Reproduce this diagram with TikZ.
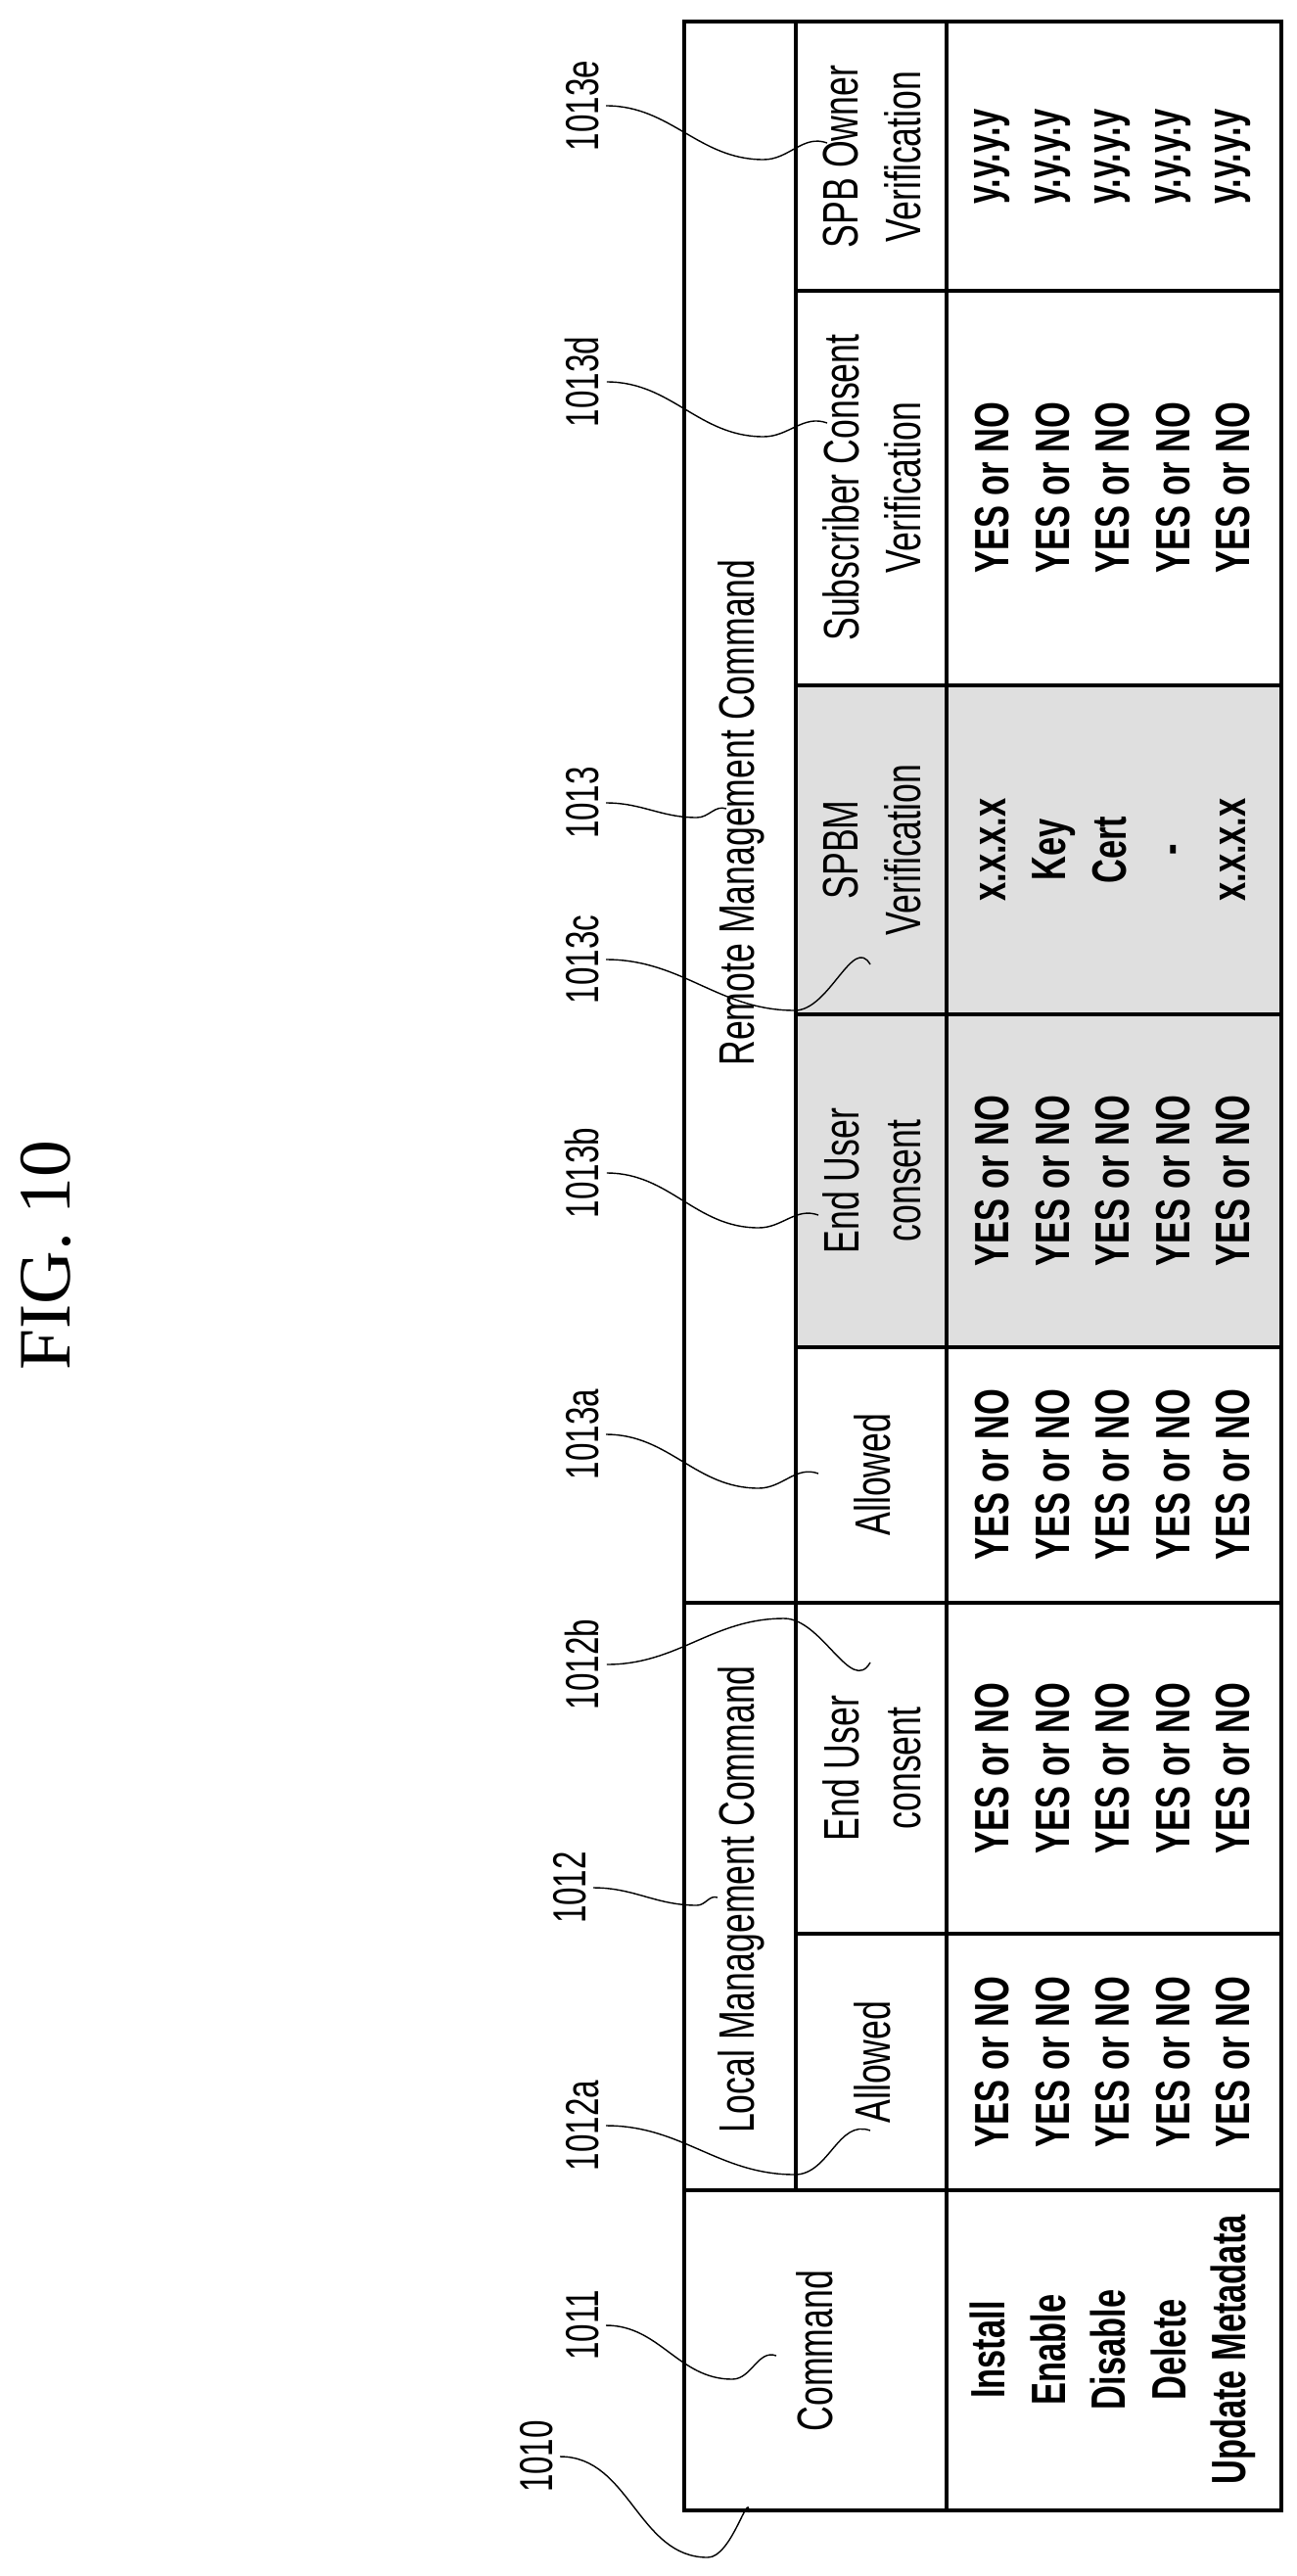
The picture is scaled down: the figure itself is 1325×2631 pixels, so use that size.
\documentclass[tikz,border=0pt]{standalone}
\usepackage{fontspec}
\setmainfont{Liberation Sans}[FakeStretch=0.7]
\newfontfamily\figfont{Liberation Serif}
\usetikzlibrary{positioning}

\tikzset{
  cell/.style={rotate=90, align=center, inner sep=0pt,
    font=\fontsize{29}{36}\selectfont},
  entry/.style={rotate=90, align=center, inner sep=0pt,
    font=\fontsize{28}{35}\selectfont\bfseries},
  refnum/.style={rotate=90, inner sep=4pt,
    font=\fontsize{27}{30}\selectfont},
  leader/.style={line width=0.8pt},
  rule/.style={line width=2pt},
}

\begin{document}
\begin{tikzpicture}[x=0.02cm, y=-0.02cm]
    \useasboundingbox (0,0) rectangle (1325,2631);

    % Shaded columns of the remote command
    \fill[gray!25] (813,700) rectangle (1309,1376);

    % Main grid of the table
    \draw[line width=2.8pt] (699,22) rectangle (1309,2564);
    \draw[line width=2.8pt] (967,22) -- (967,2564);
    \draw[line width=2.8pt] (813,22) -- (813,2237);
    \draw[rule] (699,2237) -- (1309,2237);
    \draw[rule] (699,1637) -- (1309,1637);
    \draw[rule] (813,1975) -- (1309,1975);
    \draw[rule] (813,1376) -- (1309,1376);
    \draw[rule] (813,1036) -- (1309,1036);
    \draw[rule] (813,700) -- (1309,700);
    \draw[rule] (813,297) -- (1309,297);

    % Title
    \node[rotate=90, font=\figfont\fontsize{43}{43}\selectfont] (fig) at (47,1282) {FIG.~10};

    % Column headers
    \node[cell] (command) at (832,2401) {Command};
    \node[cell] (local) at (757,1940) {Local Management Command};
    \node[cell] (remote) at (757,830) {Remote Management Command};
    \node[cell] (lallow) at (891,2106) {Allowed};
    \node[cell] (lconsent) at (891,1806) {End User\\consent};
    \node[cell] (rallow) at (891,1506) {Allowed};
    \node[cell] (rconsent) at (891,1206) {End User\\consent};
    \node[cell] (spbm) at (891,868) {SPBM\\Verification};
    \node[cell] (subscr) at (891,498) {Subscriber Consent\\Verification};
    \node[cell] (owner) at (891,160) {SPB Owner\\Verification};

    % Values inside the cells
    \node[entry] (vcmd) at (1137,2400) {Install\\Enable\\Disable\\Delete\\Update Metadata};
    \foreach \y/\n in {2106/va, 1806/vb, 1506/vc, 1206/vd, 498/vf}
        \node[entry] (\n) at (1137,\y) {YES or NO\\YES or NO\\YES or NO\\YES or NO\\YES or NO};
    \node[entry] (ve) at (1137,868) {x.x.x.x\\Key\\Cert\\-\\x.x.x.x};
    \node[entry] (vg) at (1137,160) {y.y.y.y\\y.y.y.y\\y.y.y.y\\y.y.y.y\\y.y.y.y};

    % Reference numerals
    \node[refnum] (r1010) at (548,2509) {1010};
    \node[refnum] (r1011) at (595,2375) {1011};
    \node[refnum] (r1012a) at (595,2171) {1012a};
    \node[refnum] (r1012) at (582,1928) {1012};
    \node[refnum] (r1012b) at (595,1700) {1012b};
    \node[refnum] (r1013a) at (595,1465) {1013a};
    \node[refnum] (r1013b) at (595,1198) {1013b};
    \node[refnum] (r1013c) at (595,980) {1013c};
    \node[refnum] (r1013) at (595,820) {1013};
    \node[refnum] (r1013d) at (595,390) {1013d};
    \node[refnum] (r1013e) at (595,108) {1013e};

    % Leader lines
    \coordinate (d1010) at (723,2612);   \coordinate (e1010) at (765,2566);
    \coordinate (d1011) at (748,2430);   \coordinate (e1011) at (793,2406);
    \coordinate (d1012a) at (812,2221);  \coordinate (e1012a) at (889,2176);
    \coordinate (d1012) at (712,1946);   \coordinate (e1012) at (733,1938);
    \coordinate (d1012b) at (801,1653);  \coordinate (e1012b) at (889,1698);
    \coordinate (d1013a) at (775,1520);  \coordinate (e1013a) at (836,1505);
    \coordinate (d1013b) at (775,1254);  \coordinate (e1013b) at (836,1241);
    \coordinate (d1013c) at (812,1032);  \coordinate (e1013c) at (889,985);
    \coordinate (d1013) at (712,835);    \coordinate (e1013) at (742,826);
    \coordinate (d1013d) at (780,446);   \coordinate (e1013d) at (845,432);
    \coordinate (d1013e) at (780,163);   \coordinate (e1013e) at (845,146);

    \draw[leader] (r1010.south) to[out=0,in=180] (d1010) to[out=0,in=90] (e1010);
    \foreach \n in {1011,1012a,1012,1013a,1013b,1013,1013d,1013e}
        \draw[leader] (r\n.south) to[out=0,in=180] (d\n) to[out=0,in=160] (e\n);
    \draw[leader] (r1013c.south) to[out=0,in=180] (d1013c) to[out=0,in=120] (e1013c);
    \draw[leader] (r1012b.south) to[out=0,in=180] (d1012b) to[out=0,in=240] (e1012b);
\end{tikzpicture}
\end{document}
